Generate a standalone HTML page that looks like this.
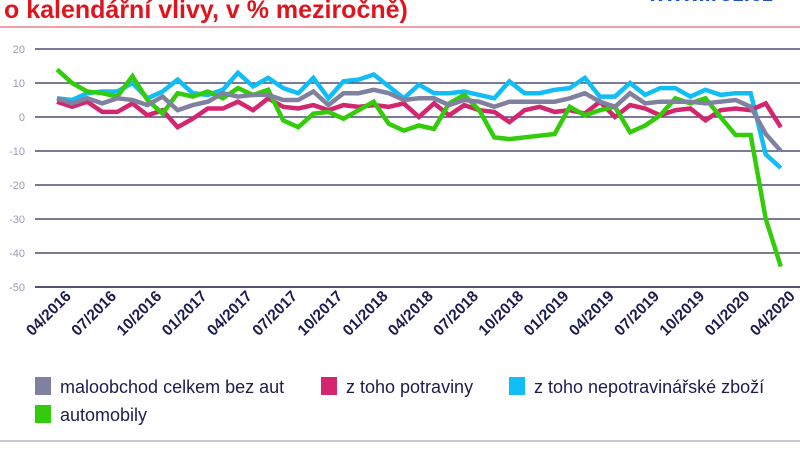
<!DOCTYPE html>
<html><head><meta charset="utf-8"><style>
body{margin:0;background:#fff;width:800px;height:449px;overflow:hidden;font-family:"Liberation Sans",sans-serif;}
</style></head><body>
<svg width="800" height="449" viewBox="0 0 800 449">
<text x="4" y="18" font-size="25" font-weight="bold" fill="#e0141e">o kalendářní vlivy, v % meziročně)</text>
<text x="648" y="1" font-size="22" font-weight="bold" fill="#2050d0">www.iroz.cz</text>
<line x1="0" y1="27" x2="800" y2="27" stroke="#d84050" stroke-width="1"/>
<g id="grid"></g><g id="series"></g><g id="xlabels"></g>
<g>
<rect x="35" y="377" width="16" height="18" fill="#7f819f"/>
<text x="60" y="393" font-size="18" fill="#1c1c50">maloobchod celkem bez aut</text>
<rect x="321" y="377" width="16" height="18" fill="#d4256f"/>
<text x="346" y="393" font-size="18" fill="#1c1c50">z toho potraviny</text>
<rect x="509" y="377" width="16" height="18" fill="#10bef5"/>
<text x="534" y="393" font-size="18" fill="#1c1c50">z toho nepotravinářské zboží</text>
<rect x="35" y="405" width="16" height="18" fill="#33cc0a"/>
<text x="60" y="421" font-size="18" fill="#1c1c50">automobily</text>
</g>
<line x1="0" y1="441" x2="800" y2="441" stroke="#c8c8d8" stroke-width="2"/>
</svg>
<script>
const yTicks=[20,10,0,-10,-20,-30,-40,-50];
const xLabels=["04/2016","07/2016","10/2016","01/2017","04/2017","07/2017","10/2017","01/2018","04/2018","07/2018","10/2018","01/2019","04/2019","07/2019","10/2019","01/2020","04/2020"];
const total=[5.5,4,5.5,4,5.5,5,3.5,6,2,3.5,4.5,7,6,6.5,6.5,5,5,7.5,3.5,7,7,8,7,5,5.5,5.5,3.5,5,4.5,3,4.5,4.5,4.5,4.5,5.5,7,4.5,3,7,4,4.5,4.5,4.5,4,4.5,5,3,-5,-10];
const food=[4.5,3,4.5,1.5,1.5,4,0.5,2,-3,-0.5,2.5,2.5,4.5,2,5.5,3,2.5,3.5,2,3.5,3,3.5,3,4,0,4,0.5,3.5,2,1.5,-1.5,2,3,1.5,2,1,4.5,0,3.5,2.5,0.5,2,2.5,-1,2,2.5,2,4,-3];
const nonfood=[5.5,5,7,7.5,7.5,10,5.5,7.5,11,7,6.5,8,13,9,11.5,8.5,7,11.5,5.5,10.5,11,12.5,9,5.5,9.5,7,7,7.5,6.5,5.5,10.5,7,7,8,8.5,11.5,6,6,10,6.5,8.5,8.5,6,8,6.5,7,7,-11,-15];
const cars=[14,10,7.5,7,6,12,5,1,7,6,7.5,5.5,8.5,6.5,8,-1,-3,1,1.5,-0.5,2,4.5,-2,-4,-2.5,-3.5,4,6.5,2,-6,-6.5,-6,-5.5,-5,3,0.5,2,3,-4.5,-2.5,0.5,5.5,4,5.5,0,-5.3,-5.3,-30,-44];
const NS="http://www.w3.org/2000/svg";
const x0=57,step=15.08;
function xs(i){return x0+i*step;}
function ys(v){return 117-v*3.4;}
const grid=document.getElementById('grid');
yTicks.forEach(t=>{
 const l=document.createElementNS(NS,'line');
 l.setAttribute('x1',35);l.setAttribute('x2',800);l.setAttribute('y1',ys(t));l.setAttribute('y2',ys(t));
 l.setAttribute('stroke',t===-50?'#555570':'#2b2b5c');l.setAttribute('stroke-width',t===-50?2:1.3);
 
 
 grid.appendChild(l);
 const tx=document.createElementNS(NS,'text');
 tx.setAttribute('x',25);tx.setAttribute('y',ys(t)+4);tx.setAttribute('text-anchor','end');
 tx.setAttribute('font-size','11');tx.setAttribute('fill','#9a9ab4');tx.textContent=t;
 
 
 grid.appendChild(tx);
});
const sg=document.getElementById('series');
[[nonfood,'#10bef5','series-nonfood'],[food,'#d4256f','series-food'],[cars,'#33cc0a','series-cars'],[total,'#7f819f','series-total']].forEach(([d,c,n])=>{
 const p=document.createElementNS(NS,'polyline');
 p.setAttribute('points',d.map((v,i)=>xs(i)+','+ys(v)).join(' '));
 p.setAttribute('fill','none');p.setAttribute('stroke',c);p.setAttribute('stroke-width','4.5');p.setAttribute('stroke-linejoin','miter');
 
 
 sg.appendChild(p);
});
const xg=document.getElementById('xlabels');
xLabels.forEach((s,k)=>{
 const x=xs(k*3)+15,y=297;
 const t=document.createElementNS(NS,'text');
 t.setAttribute('x',x);t.setAttribute('y',y);t.setAttribute('text-anchor','end');
 t.setAttribute('transform','rotate(-45 '+x+' '+y+')');
 t.setAttribute('font-size','15.5');t.setAttribute('font-weight','bold');t.setAttribute('fill','#1c1c50');
 t.textContent=s;
 
 
 xg.appendChild(t);
});
</script>
</body></html>
